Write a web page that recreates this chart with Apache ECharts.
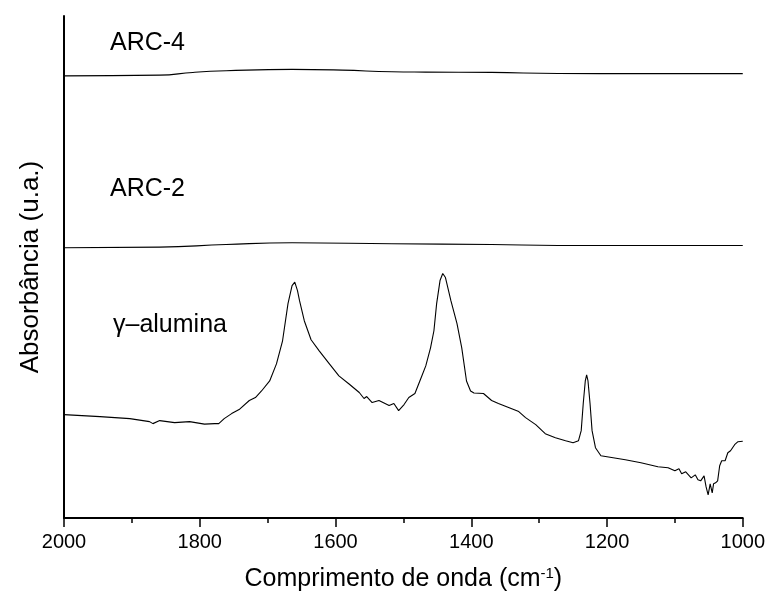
<!DOCTYPE html>
<html>
<head>
<meta charset="utf-8">
<script src="https://cdn.jsdelivr.net/npm/echarts@6/dist/echarts.min.js"></script>
<style>html,body{margin:0;padding:0;background:#fff}#c{width:768px;height:599px}</style>
</head>
<body>
<div id="c"></div>
<script>
// Wavenumber (cm-1) and absorbance (arbitrary units, offset per sample)
const arc4Wn  = [2000, 1859, 1810, 1761, 1664, 1590, 1517, 1467, 1370, 1272, 1150, 1000];
const arc4Val = [88.08, 88.22, 88.76, 89.08, 89.36, 89.22, 88.88, 88.82, 88.76, 88.56, 88.52, 88.52];

const arc2Wn  = [2000, 1859, 1761, 1664, 1517, 1370, 1272, 1150, 1000];
const arc2Val = [53.83, 53.95, 54.49, 54.83, 54.63, 54.49, 54.29, 54.29, 54.29];

const aluWn = [2000,1947,1903,1874,1869,1859,1837,1815,1793,1778,1772,1764,1753,1742,1727,1718,1709,1697,1687,1678,1670,1664,1660,1656,1653,1646,1636,1624,1609,1595,1580,1565,1558,1554,1546,1536,1521,1514,1507,1499,1492,1483,1474,1467,1460,1455,1451,1446,1442,1438,1430,1421,1414,1407,1401,1396,1382,1370,1360,1345,1330,1320,1305,1291,1276,1261,1250,1242,1238,1235,1232,1230,1228,1225,1222,1217,1209,1191,1173,1150,1125,1110,1100,1094,1090,1084,1076,1070,1066,1062,1057,1054,1051,1048,1045,1043,1040,1037,1034,1031,1026,1022,1018,1012,1007,1000];
const aluVal = [20.6,20.2,19.8,19.2,18.8,19.4,19.0,19.2,18.7,18.8,18.8,19.8,20.8,21.6,23.4,24.0,25.3,27.3,30.7,35.3,42.7,46.3,47.0,45.3,43.3,39.3,35.5,33.3,30.7,28.3,26.7,25.0,23.8,24.2,23.0,23.4,22.4,22.8,21.4,22.6,24.0,24.8,27.9,30.3,33.9,37.3,42.7,47.3,48.7,47.9,43.3,38.7,33.9,27.3,25.3,24.9,24.8,23.4,22.8,22.0,21.2,20.0,18.6,16.8,16.0,15.4,15.0,15.4,17.4,22.8,27.3,28.5,27.3,22.8,17.4,14.0,12.4,12.0,11.6,11.0,10.2,10.0,9.4,9.8,8.8,9.2,8.0,8.6,7.6,7.4,8.4,6.2,4.6,6.8,5.0,6.8,7.0,7.4,10.4,11.4,11.4,13.0,13.4,14.6,15.2,15.3];

const xTicks = [2000, 1800, 1600, 1400, 1200, 1000];
const seriesNames = ['ARC-4', 'ARC-2', 'γ–alumina'];

const zip = (a, b) => a.map((v, i) => [v, b[i]]);
const font = '"Liberation Sans", Arial, sans-serif';

const chart = echarts.init(document.getElementById('c'), null, {renderer: 'canvas'});
const lineSeries = (name, wn, val, smooth) => ({
  name, type: 'line', data: zip(wn, val), showSymbol: false, symbol: 'none',
  lineStyle: {color: '#000', width: 1.1}, smooth: smooth, animation: false
});

chart.setOption({
  animation: false,
  backgroundColor: '#fff',
  grid: {left: 64, right: 23, top: 16, bottom: 81},
  xAxis: {
    type: 'value', inverse: true, min: 1000, max: 2000, interval: 200,
    axisLine: {show: true, lineStyle: {color: '#000', width: 2}},
    axisTick: {show: true, length: 9, lineStyle: {color: '#000', width: 1.5}},
    minorTick: {show: true, splitNumber: 2, length: 5, lineStyle: {color: '#000', width: 1.5}},
    splitLine: {show: false},
    axisLabel: {color: '#000', fontSize: 20, fontFamily: font, margin: 14,
      formatter: v => xTicks.includes(v) ? String(v) : ''},
    name: '{t|Comprimento de onda (cm}{s|-1}{t|)}',
    nameLocation: 'middle', nameGap: 48,
    nameTextStyle: {rich: {
      t: {fontSize: 25, fontFamily: font, color: '#000'},
      s: {fontSize: 15, fontFamily: font, color: '#000', verticalAlign: 'top', padding: [0, 0, 12, 0]}
    }}
  },
  yAxis: {
    type: 'value', min: 0, max: 100,
    axisLine: {show: true, lineStyle: {color: '#000', width: 2}},
    axisTick: {show: false}, axisLabel: {show: false}, splitLine: {show: false},
    name: 'Absorbância (u.a.)', nameLocation: 'middle', nameGap: 20,
    nameTextStyle: {fontSize: 26, fontFamily: font, color: '#000'}
  },
  series: [
    lineSeries(seriesNames[0], arc4Wn, arc4Val, 0.5),
    lineSeries(seriesNames[1], arc2Wn, arc2Val, 0.5),
    lineSeries(seriesNames[2], aluWn, aluVal, false)
  ],
  graphic: [
    {type: 'text', left: 110, top: 31, style: {text: seriesNames[0], fontSize: 25, fontFamily: font, fill: '#000'}},
    {type: 'text', left: 110, top: 177, style: {text: seriesNames[1], fontSize: 25, fontFamily: font, fill: '#000'}},
    {type: 'text', left: 113, top: 313, style: {text: seriesNames[2], fontSize: 25, fontFamily: font, fill: '#000'}}
  ]
});
</script>
</body>
</html>
